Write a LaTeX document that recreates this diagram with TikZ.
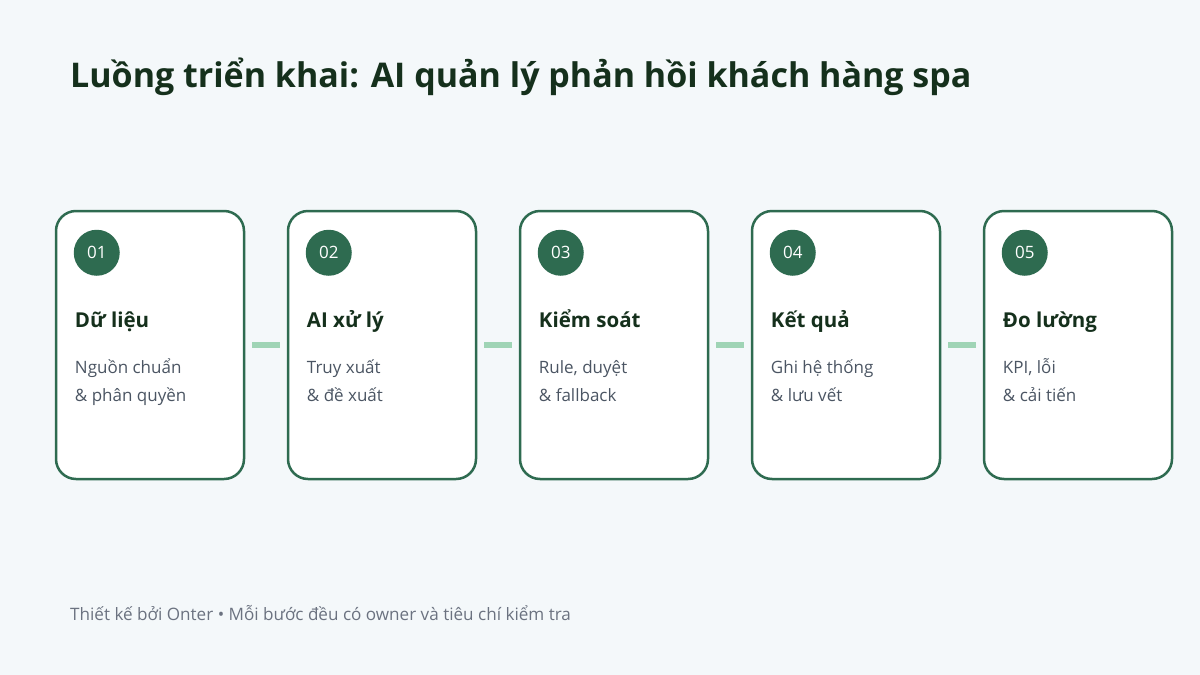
\documentclass[tikz,border=0pt]{standalone}
\usepackage{fontspec}
\setmainfont{Open Sans}
\usetikzlibrary{positioning, calc}
\definecolor{page-bg}{HTML}{F4F8FA}
\definecolor{card-green}{HTML}{2E6B50}
\definecolor{title-dark}{HTML}{15301C}
\definecolor{desc-grey}{HTML}{4B5563}
\definecolor{foot-grey}{HTML}{6B7280}
\definecolor{link-green}{HTML}{9FD4B5}

\begin{document}
\begin{tikzpicture}[x=1pt, y=-1pt,
    card/.style={draw=card-green, line width=2.5pt, fill=white,
        rounded corners=20pt, minimum width=188pt, minimum height=268pt,
        inner sep=0pt},
    numdot/.style={circle, fill=card-green, minimum size=46pt, inner sep=0pt,
        text=white, font=\fontsize{17}{17}\selectfont},
    stephead/.style={anchor=base west, inner sep=0pt, text=title-dark,
        font=\fontsize{20.5}{24}\selectfont\bfseries},
    stepdesc/.style={anchor=base west, inner sep=0pt, text=desc-grey,
        font=\fontsize{17}{20}\selectfont},
    link/.style={draw=link-green, line width=5.5pt, shorten <=7pt, shorten >=7pt}]

    % Background and fixed frame
    \fill[page-bg] (0,0) rectangle (1200,675);

    % TITLE
    \node [anchor=base west, inner sep=0pt, text=title-dark,
        font=\fontsize{34}{40}\selectfont\bfseries] (title) at (70,87)
        {Luồng triển khai: AI quản lý phản hồi khách hàng spa};

    % STEP CARDS
    \foreach \i/\head/\descA/\descB in {
        1/{Dữ liệu}/{Nguồn chuẩn}/{\& phân quyền},
        2/{AI xử lý}/{Truy xuất}/{\& đề xuất},
        3/{Kiểm soát}/{Rule, duyệt}/{\& fallback},
        4/{Kết quả}/{Ghi hệ thống}/{\& lưu vết},
        5/{Đo lường}/{KPI, lỗi}/{\& cải tiến}} {
        \node [card] (card\i) at ({150+232*(\i-1)},345) {};
        \node [numdot] (num\i) at ($(card\i.north west)+(42,43)$) {0\i};
        \node [stephead] (head\i) at ($(card\i.north west)+(20,118)$) {\head};
        \node [stepdesc] (descA\i) at ($(card\i.north west)+(20,164)$) {\descA};
        \node [stepdesc] (descB\i) at ($(card\i.north west)+(20,192)$) {\descB};
    }

    % Links between cards
    \foreach \a/\b in {1/2, 2/3, 3/4, 4/5}
        \draw[link] (card\a) -- (card\b);

    % FOOTER
    \node [anchor=base west, inner sep=0pt, text=foot-grey,
        font=\fontsize{17.1}{20}\selectfont] (footer) at (70,620)
        {Thiết kế bởi Onter • Mỗi bước đều có owner và tiêu chí kiểm tra};
\end{tikzpicture}
\end{document}
